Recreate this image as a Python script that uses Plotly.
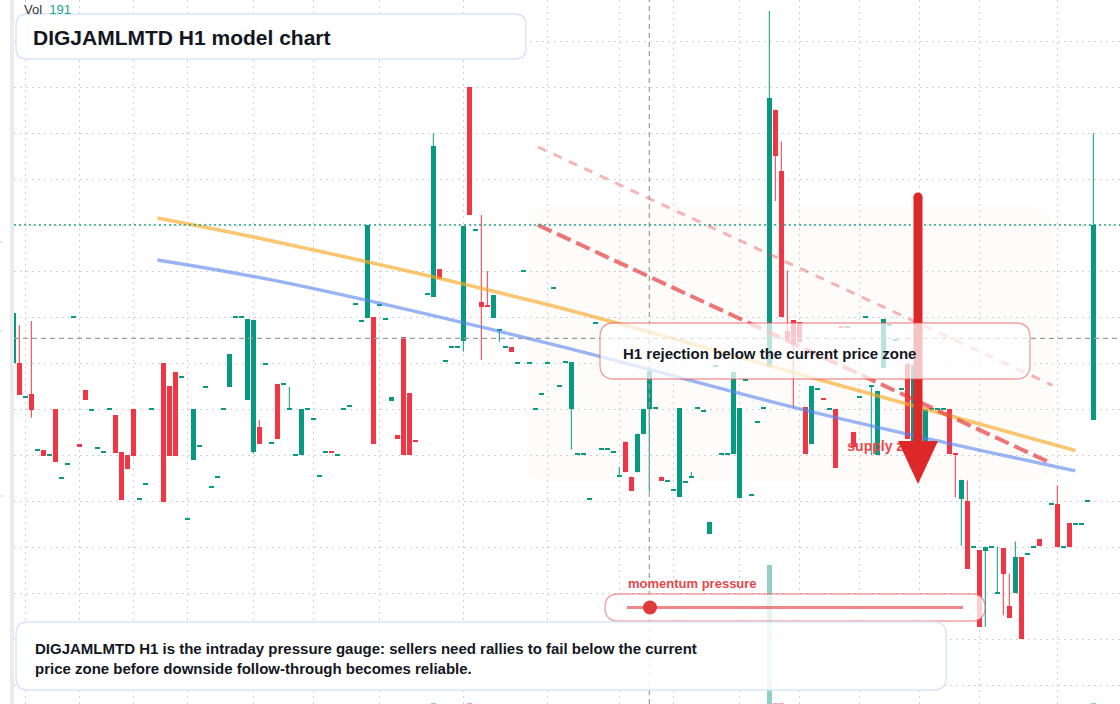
import plotly.graph_objects as go

# ---------------- data ----------------
open_ = [
    103.67, 103.67, 100.27, 100.6, 94.97, 95.0, 94.5, 99.1, 92.17, 93.57,
    108.27, 95.6, 101.0, 98.97, 95.17, 94.77, 99.07, 98.5, 94.8, 94.5,
    99.1, 90.07, 91.57, 99.07, None, 103.67, 101.4, 102.8, 102.27, 88.13,
    94.0, 95.37, 101.33, 91.27, 92.27, 99.07, 101.33, 108.27, 108.27, 100.03,
    94.83, 97.3, 103.57, 95.67, 101.6, 101.57, 99.07, 94.47, 94.47, 99.07,
    98.07, 92.37, 94.77, 94.8, 94.47, 99.07, 99.37, 109.57, 107.87, 108.23,
    108.3, 109.47, 108.07, 99.93, 96.5, 106.3, 100.7, 95.9, None, 110.57,
    110.33, 113.1, 103.87, 105.27, 105.27, 105.93, 131.33, 116.97, 109.8, 109.4,
    108.23, 106.97, 105.27, 105.3, 103.67, 112.87, 103.67, 99.07, 100.57, 103.67,
    111.2, 101.4, 103.8, 99.15, 94.62, 94.62, 90.12, 107.66, 95.1, 95.1,
    94.82, 92.4, 95.85, 92.35, 92.76, 96.57, 99.15, 99.18, 92.35, 91.94,
    91.01, 90.29, 91.77, 92.35, 99.18, 98.94, 86.62, 103.37, 94.62, 94.62,
    94.62, 90.19, 102.03, 90.53, 97.81, 99.18, 103.34, 129.05, 122.87, 106.94,
    108.0, 107.8, 99.3, 95.65, 101.1, 100.13, 99.12, 99.12, 107.35, 107.33,
    96.83, 100.33, 108.32, 101.4, 94.48, 103.18, 107.53, 106.03, 101.11, 103.61,
    95.94, None, 95.94, 99.12, 99.12, 99.12, 99.12, 94.65, 90.13, 89.91,
    85.35, 85.0, 84.89, 85.35, 80.75, 85.17, 79.36, 80.71, 84.28, 84.64,
    85.35, 86.06, None, 89.63, 89.63, 85.35, 87.67, 87.63, 87.63, 89.91, 97.97,
]
high = [
    108.73, 107.5, 100.27, 107.9, 94.97, 95.0, 94.5, 99.1, 92.17, 93.57,
    108.27, 95.6, 101.0, 98.97, 95.17, 94.77, 99.07, 98.5, 94.8, 94.5,
    99.1, 90.07, 91.57, 99.07, None, 103.67, 101.4, 102.8, 102.27, 88.13,
    99.1, 95.37, 101.33, 91.27, 92.27, 99.07, 104.6, 108.27, 108.27, 108.1,
    108.0, 98.0, 103.57, 95.67, 101.6, 101.57, 101.3, 94.47, 99.07, 99.07,
    98.07, 92.37, 94.77, 94.8, 94.47, 99.07, 99.37, 109.57, 107.87, 117.47,
    108.3, 109.47, 108.07, 100.3, 96.5, 106.3, 100.7, 95.9, None, 110.57,
    126.67, 113.1, 103.87, 105.27, 105.27, 117.4, 131.33, 116.97, 118.5, 112.9,
    110.5, 106.97, 105.27, 105.3, 103.67, 112.87, 103.67, 99.07, 100.57, 103.67,
    111.2, 101.4, 103.8, 103.8, 94.62, 94.62, 90.12, 107.66, 95.1, 95.1,
    94.82, 93.3, 95.85, 92.35, 96.64, 99.15, 102.92, 99.18, 92.35, 91.94,
    91.01, 99.18, 91.77, 92.8, 99.18, 98.94, 87.85, 103.37, 94.62, 94.62,
    102.82, 99.18, 102.03, 90.53, 97.81, 99.18, 138.9, 129.05, 125.86, 112.95,
    108.0, 107.8, 99.3, 101.41, 101.1, 100.13, 99.12, 99.12, 107.35, 107.33,
    96.83, 100.33, 108.32, 101.4, 100.93, 108.1, 107.53, 106.03, 101.11, 103.61,
    103.54, None, 99.12, 99.12, 99.12, 99.12, 99.12, 94.65, 92.02, 91.95,
    85.35, 85.0, 85.35, 85.35, 85.35, 85.17, 82.64, 85.85, 84.28, 84.64,
    85.35, 86.06, None, 89.63, 91.48, 85.35, 87.67, 87.63, 87.63, 89.91, 126.68,
]
low = [
    103.67, 100.5, 100.27, 98.23, 94.97, 94.4, 94.5, 93.8, 92.17, 93.57,
    108.27, 95.33, 100.0, 98.97, 95.17, 94.77, 99.07, 94.7, 90.0, 93.1,
    94.4, 90.07, 91.57, 99.07, None, 89.83, 94.43, 94.43, 102.27, 88.13,
    94.0, 95.37, 101.33, 91.27, 92.27, 99.07, 101.33, 108.27, 108.27, 100.03,
    94.63, 95.63, 103.57, 95.67, 96.1, 101.57, 99.07, 94.47, 94.47, 99.07,
    98.07, 92.37, 94.77, 94.75, 94.47, 99.07, 99.37, 109.57, 107.87, 108.23,
    95.63, 109.47, 108.07, 99.93, 96.1, 94.5, 94.5, 95.85, None, 110.57,
    110.33, 112.1, 103.87, 105.27, 105.27, 104.83, 118.5, 116.97, 104.0, 109.35,
    108.23, 105.83, 105.27, 104.83, 103.67, 112.87, 103.67, 99.07, 100.57, 103.67,
    111.2, 101.4, 103.8, 95.03, 94.62, 94.62, 90.12, 107.66, 95.1, 95.1,
    94.82, 92.4, 92.76, 90.88, 92.76, 96.57, 90.84, 99.18, 91.9, 91.94,
    91.01, 90.29, 91.77, 92.35, 99.18, 98.94, 86.62, 103.37, 94.62, 94.62,
    94.62, 90.19, 102.03, 90.53, 97.81, 99.18, 103.34, 119.9, 108.35, 106.01,
    99.22, 105.81, 94.6, 95.65, 101.1, 100.09, 99.12, 93.2, 107.31, 107.33,
    95.33, 100.33, 108.32, 94.48, 94.48, 103.18, 107.53, 106.03, 101.11, 96.12,
    95.94, None, 95.94, 99.12, 99.12, 99.12, 94.62, 90.24, 85.42, 83.14,
    85.35, 77.32, 77.32, 85.35, 80.75, 78.47, 78.22, 80.71, 76.15, 84.64,
    85.35, 85.42, None, 89.63, 85.35, 85.35, 85.35, 87.63, 87.63, 89.91, 97.97,
]
close = [
    108.73, 100.5, 100.27, 99.03, 94.97, 94.4, 94.5, 93.8, 92.17, 93.57,
    108.27, 95.33, 100.0, 98.97, 95.17, 94.77, 99.07, 94.7, 90.0, 93.1,
    94.4, 90.07, 91.57, 99.07, None, 89.83, 94.43, 94.43, 102.27, 88.13,
    99.1, 95.37, 101.33, 91.27, 92.27, 99.07, 104.6, 108.27, 108.27, 108.1,
    108.0, 95.63, 103.57, 95.67, 96.1, 101.57, 99.07, 94.47, 99.07, 99.07,
    98.07, 92.37, 94.77, 94.75, 94.47, 99.07, 99.37, 109.57, 107.87, 117.47,
    95.63, 109.47, 108.07, 100.3, 96.1, 94.5, 94.5, 95.85, None, 110.57,
    125.4, 112.1, 103.87, 105.27, 105.27, 117.4, 118.5, 116.97, 109.3, 109.35,
    110.5, 106.97, 105.27, 104.83, 103.67, 112.87, 103.67, 99.07, 100.57, 103.67,
    111.2, 101.4, 103.8, 103.8, 94.62, 94.62, 90.12, 107.66, 95.1, 95.1,
    94.82, 92.4, 92.76, 90.88, 96.64, 99.15, 102.92, 99.18, 91.9, 91.94,
    91.01, 99.18, 91.77, 92.35, 99.18, 98.94, 87.85, 103.37, 94.62, 94.62,
    102.82, 99.18, 102.03, 90.53, 97.81, 99.18, 130.22, 124.38, 108.35, 106.01,
    105.57, 105.81, 94.6, 101.41, 101.1, 100.09, 99.12, 93.2, 107.31, 107.33,
    95.33, 100.33, 108.32, 101.4, 100.93, 108.1, 107.53, 106.03, 101.11, 96.12,
    103.54, None, 99.12, 99.12, 99.12, 99.12, 94.62, 94.6, 92.02, 83.14,
    85.35, 77.32, 85.35, 85.35, 80.75, 82.57, 78.22, 84.28, 76.15, 84.64,
    85.35, 85.42, None, 89.63, 85.35, 85.35, 85.35, 87.63, 87.63, 89.91, 117.52,
]
volume = [
    95, 80, 30, 70, 20, 45, 15, 75, 25, 30,
    40, 35, 60, 20, 25, 20, 30, 65, 70, 50,
    70, 20, 25, 30, 0, 110, 85, 90, 25, 15,
    75, 20, 30, 20, 15, 30, 60, 20, 25, 80,
    105, 55, 25, 20, 70, 20, 35, 20, 65, 20,
    25, 15, 20, 25, 20, 30, 20, 30, 25, 100,
    110, 20, 20, 35, 40, 95, 75, 30, 0, 25,
    115, 50, 25, 20, 20, 105, 120, 30, 85, 45,
    55, 35, 20, 40, 20, 25, 20, 25, 20, 20,
    30, 20, 25, 65, 15, 20, 20, 30, 20, 20,
    20, 30, 55, 45, 60, 50, 70, 20, 40, 20,
    20, 85, 20, 25, 20, 25, 40, 20, 20, 20,
    75, 90, 25, 20, 30, 25, 30500, 150, 300, 110,
    100, 85, 95, 75, 30, 35, 25, 85, 40, 30,
    55, 25, 30, 60, 70, 80, 30, 25, 35, 90,
    95, 0, 60, 20, 20, 20, 80, 65, 70, 100,
    30, 110, 75, 20, 50, 85, 55, 70, 105, 25,
    25, 45, 0, 25, 75, 20, 50, 20, 20, 30, 191,
]

# moving-average style guide lines (bar index, price)
ma_x = [24, 44.5, 88, 134.5, 177]
ma_fast = [118.2, 115.73, 109.69, 102.0, 94.94]
ma_slow = [114.0, 111.83, 105.84, 98.62, 92.91]
# descending resistance lines
res_x = [87.45, 173.2]
res_upper = [125.3, 101.47]
res_lower = [117.5, 93.62]

time_ticks = [2, 11, 20, 29, 40, 50, 61, 75, 89, 101, 110, 121, 131, 141, 151, 161, 174]
price_ticks = [135.9, 131.3, 126.7, 122.1, 117.5, 112.9, 108.3, 103.7, 99.1, 94.5,
               89.9, 85.3, 80.7, 76.1, 71.5]
crosshair_index = 106
crosshair_price = 106.17
last_volume = 191

# ---------------- style ----------------
W, H = 1120, 704
ML = 14
PW = W - ML
TEAL = "#089981"
RED = "#f23645"
TEAL_V = "rgba(8,153,129,0.45)"
RED_V = "rgba(242,54,69,0.45)"
DARK = "#131722"
FONT = "Liberation Sans, Arial, sans-serif"
X_LO = (14 - 13.3) / 6
X_HI = X_LO + PW / 6


def pxx(x):
    return (x - ML) / PW


def pyy(y):
    return 1 - y / H


def rrect(x0, y0, x1, y1, r):
    P = lambda x, y: f"{pxx(x):.5f},{pyy(y):.5f}"
    return (f"M {P(x0 + r, y0)} L {P(x1 - r, y0)} Q {P(x1, y0)} {P(x1, y0 + r)} "
            f"L {P(x1, y1 - r)} Q {P(x1, y1)} {P(x1 - r, y1)} "
            f"L {P(x0 + r, y1)} Q {P(x0, y1)} {P(x0, y1 - r)} "
            f"L {P(x0, y0 + r)} Q {P(x0, y0)} {P(x0 + r, y0)} Z")


# ---------------- candles ----------------
bx, bbase, bh, bcol = [], [], [], []
wick = {TEAL: ([], []), RED: ([], [])}
vx, vy, vcol = [], [], []
for i, (o, h, l, c) in enumerate(zip(open_, high, low, close)):
    if o is None:
        continue
    col = TEAL if c >= o else RED
    lo, hi = min(o, c), max(o, c)
    if hi - lo < 0.2:
        m = (lo + hi) / 2
        lo, hi = m - 0.1, m + 0.1
    bx.append(i)
    bbase.append(lo)
    bh.append(hi - lo)
    bcol.append(col)
    if h - l > 0.05:
        wick[col][0].extend([i, i, None])
        wick[col][1].extend([l, h, None])
    vx.append(i)
    vy.append(volume[i])
    vcol.append(TEAL_V if c >= o else RED_V)

fig = go.Figure()
fig.add_trace(go.Bar(x=vx, y=vy, width=0.87, marker=dict(color=vcol, line=dict(width=0)),
                     yaxis="y2", hoverinfo="skip"))
for col in (TEAL, RED):
    fig.add_trace(go.Scatter(x=wick[col][0], y=wick[col][1], mode="lines",
                             line=dict(color=col, width=1), hoverinfo="skip"))
fig.add_trace(go.Bar(x=bx, y=bh, base=bbase, width=0.87,
                     marker=dict(color=bcol, line=dict(width=0)), hoverinfo="skip"))

fig.add_trace(go.Scatter(x=ma_x, y=ma_fast, mode="lines",
                         line=dict(color="rgba(247,168,40,0.66)", width=3.6, shape="spline"),
                         hoverinfo="skip"))
fig.add_trace(go.Scatter(x=ma_x, y=ma_slow, mode="lines",
                         line=dict(color="rgba(85,130,240,0.6)", width=3.4, shape="spline"),
                         hoverinfo="skip"))
fig.add_trace(go.Scatter(x=res_x, y=res_upper, mode="lines",
                         line=dict(color="rgba(233,80,80,0.42)", width=3, dash="9px,8px"),
                         hoverinfo="skip"))
fig.add_trace(go.Scatter(x=res_x, y=res_lower, mode="lines",
                         line=dict(color="rgba(228,60,60,0.7)", width=4, dash="15px,6px"),
                         hoverinfo="skip"))
fig.add_trace(go.Scatter(x=[139.0], y=[95.25], mode="text", text=["<b>supply zone</b>"],
                         textposition="middle right",
                         textfont=dict(size=14, color="#e5484d", family=FONT),
                         hoverinfo="skip"))

# ---------------- shapes ----------------
shapes = []
shapes.append(dict(type="path", path=rrect(527, 207, 1052, 482, 20), xref="paper", yref="paper",
                   fillcolor="rgba(240,185,140,0.045)", line=dict(width=0), layer="between"))
grey_dash = dict(color="#9c9c9c", width=1.2, dash="5px,4px")
shapes.append(dict(type="line", xref="paper", x0=0, x1=1, yref="y", y0=crosshair_price,
                   y1=crosshair_price, line=grey_dash, layer="above"))
shapes.append(dict(type="line", xref="x", x0=crosshair_index, x1=crosshair_index, yref="paper",
                   y0=0, y1=1, line=grey_dash, layer="above"))
shapes.append(dict(type="line", xref="paper", x0=0, x1=1, yref="y", y0=close[-1], y1=close[-1],
                   line=dict(color=TEAL, width=1.3, dash="2px,3px"), layer="above"))
# arrow
ARROW = "#dc2828"
shapes.append(dict(type="line", xref="paper", yref="paper", x0=pxx(918), x1=pxx(918),
                   y0=pyy(197), y1=pyy(446), line=dict(color=ARROW, width=9), layer="above"))
shapes.append(dict(type="circle", xref="paper", yref="paper", x0=pxx(913.5), x1=pxx(922.5),
                   y0=pyy(192.5), y1=pyy(201.5), fillcolor=ARROW, line=dict(width=0), layer="above"))
shapes.append(dict(type="path", xref="paper", yref="paper",
                   path=f"M {pxx(898)},{pyy(441)} L {pxx(938)},{pyy(441)} L {pxx(918)},{pyy(484)} Z",
                   fillcolor=ARROW, line=dict(width=0), layer="above"))
# H1 box
shapes.append(dict(type="path", path=rrect(600, 323, 1030, 379, 14), xref="paper", yref="paper",
                   fillcolor="rgba(255,255,255,0.72)",
                   line=dict(color="rgba(232,80,80,0.55)", width=1.3), layer="above"))
# title box
shapes.append(dict(type="path", path=rrect(16, 14, 526, 59, 11), xref="paper", yref="paper",
                   fillcolor="white", line=dict(color="#d8e5f8", width=1.5), layer="above"))
# momentum pill
shapes.append(dict(type="path", path=rrect(605, 594, 985, 621, 13.5), xref="paper", yref="paper",
                   fillcolor="rgba(255,255,255,0.75)",
                   line=dict(color="rgba(232,80,80,0.55)", width=1.3), layer="above"))
shapes.append(dict(type="line", xref="paper", yref="paper", x0=pxx(627), x1=pxx(963),
                   y0=pyy(607.5), y1=pyy(607.5),
                   line=dict(color="rgba(232,90,90,0.72)", width=3), layer="above"))
shapes.append(dict(type="circle", xref="paper", yref="paper", x0=pxx(643), x1=pxx(657),
                   y0=pyy(600.5), y1=pyy(614.5), fillcolor="#e03b3b", line=dict(width=0),
                   layer="above"))
# bottom box
shapes.append(dict(type="path", path=rrect(16, 622, 946, 690, 12), xref="paper", yref="paper",
                   fillcolor="rgba(255,255,255,0.88)", line=dict(color="#d8e5f8", width=1.5),
                   layer="above"))
# left strip and ticks
shapes.append(dict(type="rect", xref="paper", yref="paper", x0=pxx(10), x1=pxx(14), y0=0, y1=1,
                   fillcolor="#ebebeb", line=dict(width=0), layer="above"))
for ty in (242, 331, 496):
    shapes.append(dict(type="line", xref="paper", yref="paper", x0=pxx(0), x1=pxx(2.5),
                       y0=pyy(ty), y1=pyy(ty), line=dict(color="#cfcfcf", width=1), layer="above"))

# ---------------- annotations ----------------
ann = [
    dict(x=pxx(22), y=pyy(9), text=f"Vol\u00a0\u00a0<span style='color:#22a38d'>{last_volume}</span>",
         font=dict(size=13, color="#333333", family=FONT)),
    dict(x=pxx(31), y=pyy(37), text="<b>DIGJAMLMTD H1 model chart</b>",
         font=dict(size=21, color=DARK, family=FONT)),
    dict(x=pxx(621), y=pyy(353), text="<b>H1 rejection below the current price zone</b>",
         font=dict(size=15, color=DARK, family=FONT)),
    dict(x=pxx(626), y=pyy(583), text="<b>momentum pressure</b>",
         font=dict(size=13, color="#e5484d", family=FONT)),
    dict(x=pxx(33), y=pyy(658),
         text="<b>DIGJAMLMTD H1 is the intraday pressure gauge: sellers need rallies to fail below the current"
              "<br>price zone before downside follow-through becomes reliable.</b>",
         font=dict(size=15, color=DARK, family=FONT), align="left"),
]
for a in ann:
    a.update(xref="paper", yref="paper", xanchor="left", yanchor="middle", showarrow=False)

axis_common = dict(showticklabels=False, ticks="", zeroline=False, showline=False,
                   showgrid=True, gridcolor="#d2d2d2", gridwidth=1, griddash="2px,4px",
                   fixedrange=True)
fig.update_layout(
    width=W, height=H, margin=dict(l=ML, r=0, t=0, b=0, autoexpand=False),
    paper_bgcolor="white", plot_bgcolor="white", showlegend=False,
    barmode="overlay", bargap=0,
    xaxis=dict(range=[X_LO, X_HI], tickmode="array", tickvals=time_ticks, **axis_common),
    yaxis=dict(range=[69.6, 140], tickmode="array", tickvals=price_ticks, **axis_common),
    yaxis2=dict(overlaying="y", range=[0, 154500], visible=False, showgrid=False, fixedrange=True),
    shapes=shapes, annotations=ann, font=dict(family=FONT), hovermode=False,
)

fig.write_html("out.html", config={"displayModeBar": False})
